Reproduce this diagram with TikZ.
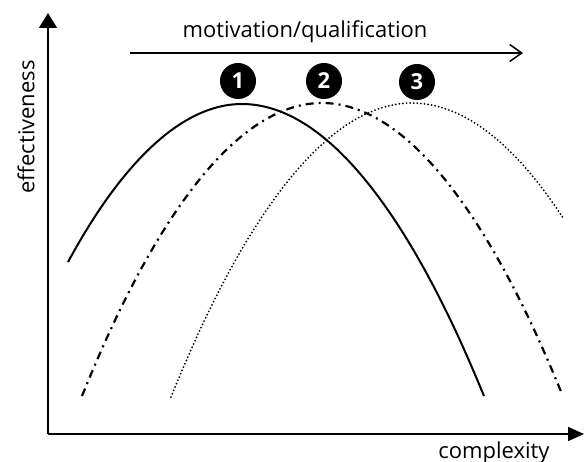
\documentclass[tikz,border=0pt]{standalone}
\usepackage{fontspec}
\setmainfont{Open Sans}
\usetikzlibrary{arrows.meta}

\begin{document}
\begin{tikzpicture}[x=1pt,y=-1pt,line width=1.5pt,
  yaxis/.style={-{Triangle[length=15pt,width=18pt]}},
  xaxis/.style={-{Triangle[length=16pt,width=14pt]}},
  trend/.style={-{Straight Barb[length=12pt,width=17pt]}},
  solidcurve/.style={line width=2pt},
  dashdotcurve/.style={line width=2.2pt,dash pattern=on 8pt off 5pt on 2pt off 5pt},
  dottedcurve/.style={line width=2pt,line cap=round,dash pattern=on 0pt off 3.6pt},
  num/.style={circle,fill=black,text=white,minimum size=36pt,inner sep=0pt,font=\fontsize{22}{22}\selectfont\bfseries},
  lbl/.style={font=\fontsize{22}{26}\selectfont,inner sep=0pt}]
\useasboundingbox (0,0) rectangle (585,462);
% axes
\coordinate (o) at (48,434);
\coordinate (ytip) at (48,13);
\coordinate (xtip) at (584,434);
\draw[yaxis] (o) -- (ytip);
\draw[xaxis] (o) -- (xtip);
\node[lbl,rotate=90] (eff) at (26,127) {effectiveness};
\node[lbl,anchor=base] (cpx) at (494,458) {complexity};
% motivation arrow
\coordinate (m-start) at (130,53);
\coordinate (m-end) at (523,53);
\draw[trend] (m-start) -- (m-end);
\node[lbl,anchor=base] (mot) at (305,38) {motivation/qualification};
% curves
\coordinate (s-l) at (68,262);
\coordinate (s-top) at (242,104);
\coordinate (s-r) at (484,396);
\draw[solidcurve] (s-l) parabola bend (s-top) (s-r);
\coordinate (d-l) at (82,396);
\coordinate (d-top) at (322,103);
\coordinate (d-r) at (562,394);
\draw[dashdotcurve] (d-l) parabola bend (d-top) (d-r);
\coordinate (p-l) at (171,397);
\coordinate (p-top) at (412,103);
\coordinate (p-r) at (563,218);
\draw[dottedcurve] (p-l) parabola bend (p-top) (p-r);
% numbers
\node[num] (n1) at (238,81) {1};
\node[num] (n2) at (324,81) {2};
\node[num] (n3) at (417,82) {3};
\end{tikzpicture}
\end{document}
